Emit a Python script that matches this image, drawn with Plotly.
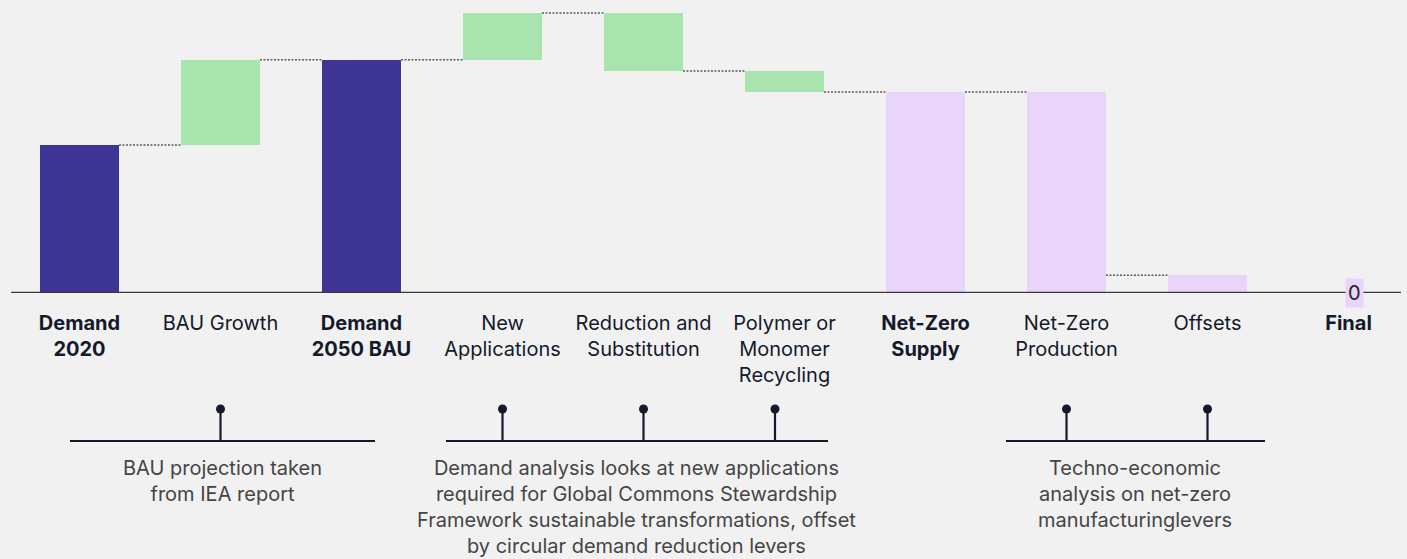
import plotly.graph_objects as go

# ---- data -------------------------------------------------------------
categories = [
    "Demand 2020", "BAU Growth", "Demand 2050 BAU", "New Applications",
    "Reduction and Substitution", "Polymer or Monomer Recycling",
    "Net-Zero Supply", "Net-Zero Production", "Offsets", "Final",
]
tick_labels = [
    "<b>Demand<br>2020</b>", "BAU Growth", "<b>Demand<br>2050 BAU</b>",
    "New<br>Applications", "Reduction and<br>Substitution",
    "Polymer or<br>Monomer<br>Recycling", "<b>Net-Zero<br>Supply</b>",
    "Net-Zero<br>Production", "Offsets", "<b>Final</b>",
]
# change contributed by each step (None = running total)
changes = [460, 265, None, 145, -180, -65, None, -570, -55, None]
measures = ["absolute", "relative", "total", "relative", "relative",
            "relative", "total", "abatement", "abatement", "total"]
stages = ["demand", "lever", "demand", "lever", "lever", "lever",
          "supply", "supply", "supply", "supply"]

notes = [
    "BAU projection taken<br>from IEA report",
    "Demand analysis looks at new applications<br>required for Global Commons Stewardship<br>"
    "Framework sustainable transformations, offset<br>by circular demand reduction levers",
    "Techno-economic<br>analysis on net-zero<br>manufacturinglevers",
]

# ---- styling ----------------------------------------------------------
BG = "#f1f1f1"
INK = "#141a2c"
NOTE_INK = "#454545"
FONT = "Inter"
stage_colors = {"demand": "#3f3594", "lever": "#a9e4ae", "supply": "#e9d5fa"}
BAR_W = 0.56

W, H = 1407, 559
PLOT_H = 293  # pixel height of the bar area (zero line sits at its bottom)
SLOT = 141.0  # pixels per category
X0_PX = 79.5  # pixel centre of first category


def px_to_x(px):
    return (px - X0_PX) / SLOT


def px_to_paper(py):
    return 1 - py / PLOT_H


# ---- waterfall geometry from the data ----------------------------------
level = 0
bases, heights, after = [], [], []
for m, c in zip(measures, changes):
    if m == "absolute":
        base, h, level = 0, c, c
    elif m == "relative":
        base, h = min(level, level + c), abs(c)
        level += c
    elif m == "total":
        base, h = 0, level
    else:  # abatement lever: drawn from zero up to the residual it addresses
        base, h = 0, level
        level += c
    bases.append(base)
    heights.append(h)
    after.append(level)

x = list(range(len(categories)))
ymax = 460 / 148.0 * PLOT_H  # value scale: 460 units ≈ 148 px

fig = go.Figure(
    go.Bar(
        x=x, y=heights, base=bases, width=BAR_W,
        marker=dict(color=[stage_colors[s] for s in stages], line=dict(width=0)),
        hovertext=categories, hoverinfo="text",
    )
)

shapes = []
# dotted connectors between consecutive bars
for i in range(len(x) - 1):
    if after[i] > 0:
        shapes.append(dict(
            type="line", xref="x", yref="y",
            x0=x[i] + BAR_W / 2, x1=x[i + 1] - BAR_W / 2,
            y0=after[i], y1=after[i],
            line=dict(color="#5a5a5a", width=1.5, dash="2px,1.5px"),
            layer="below",
        ))

# baseline
shapes.append(dict(
    type="line", xref="x", yref="y",
    x0=px_to_x(11), x1=px_to_x(1401), y0=0, y1=0,
    line=dict(color="#3a3a3a", width=2.5),
))

# bracket groups below the category labels
brackets = [
    dict(span=(70, 375), stems=[1], note_x=222),
    dict(span=(446, 828), stems=[3, 4, px_to_x(775)], note_x=636.5),
    dict(span=(1006, 1265), stems=[7, 8], note_x=1134.5),
]
bar_y, dot_y = px_to_paper(441), px_to_paper(409)
annotations = []
for b, note in zip(brackets, notes):
    shapes.append(dict(
        type="line", xref="x", yref="paper",
        x0=px_to_x(b["span"][0]), x1=px_to_x(b["span"][1]),
        y0=bar_y, y1=bar_y, line=dict(color=INK, width=2.2),
    ))
    for s in b["stems"]:
        shapes.append(dict(
            type="line", xref="x", yref="paper", x0=s, x1=s,
            y0=bar_y, y1=dot_y, line=dict(color=INK, width=2.2),
        ))
        shapes.append(dict(
            type="circle", xref="x", yref="paper",
            x0=s - 4.5 / SLOT, x1=s + 4.5 / SLOT,
            y0=dot_y - 4.5 / PLOT_H, y1=dot_y + 4.5 / PLOT_H,
            fillcolor=INK, line=dict(width=0),
        ))
    annotations.append(dict(
        text=note, xref="x", yref="paper",
        x=px_to_x(b["note_x"]), y=px_to_paper(454),
        xanchor="center", yanchor="top", showarrow=False, align="center",
        font=dict(family=FONT, size=20, color=NOTE_INK),
    ))

# value label on the final bar
annotations.append(dict(
    text=f"{after[-1]:g}", x=x[-1], y=bases[-1] + heights[-1],
    xref="x", yref="y", showarrow=False, xshift=6,
    font=dict(family=FONT, size=20, color="#222222"),
    bgcolor=stage_colors["supply"], borderpad=2,
))

fig.update_layout(
    width=W, height=H,
    margin=dict(l=0, r=0, t=0, b=H - PLOT_H, pad=0),
    paper_bgcolor=BG, plot_bgcolor=BG,
    showlegend=False, bargap=0,
    shapes=shapes, annotations=annotations,
    font=dict(family=FONT, color=INK),
    xaxis=dict(
        range=[px_to_x(0), px_to_x(W)],
        tickmode="array", tickvals=x, ticktext=tick_labels,
        tickfont=dict(family=FONT, size=20, color=INK),
        showgrid=False, zeroline=False, showline=False, ticks="",
        ticklabelstandoff=16, automargin=False, fixedrange=True,
    ),
    yaxis=dict(
        range=[0, ymax], visible=False, showgrid=False, zeroline=False,
        automargin=False, fixedrange=True,
    ),
)

fig.write_html("out.html")
